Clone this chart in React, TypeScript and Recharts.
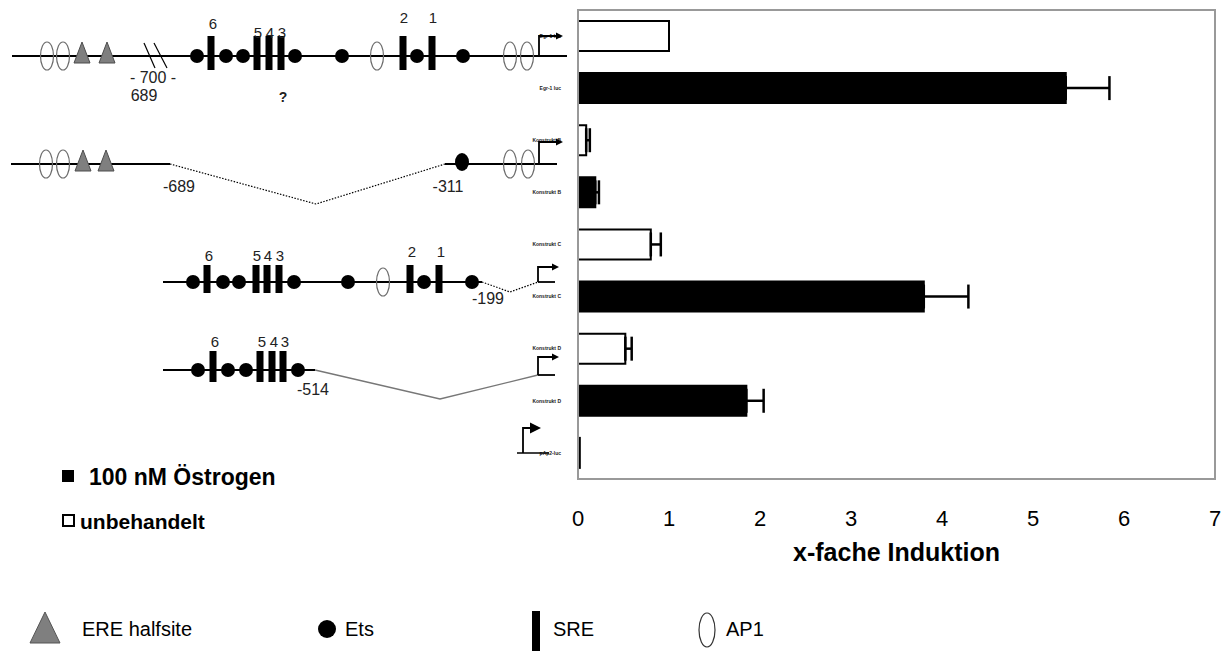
import { ComposedChart, Bar, Cell, ErrorBar, XAxis, YAxis, ReferenceArea, Label } from 'recharts';

const FONT = '"Liberation Sans", Arial, sans-serif';

// one row per bar, top to bottom
const rowLabels = ['Egr-1 luc', 'Egr-1 luc', 'Konstrukt B', 'Konstrukt B', 'Konstrukt C', 'Konstrukt C', 'Konstrukt D', 'Konstrukt D', 'pAp2-luc'];
const treatments = ['unbehandelt', 'Östrogen', 'unbehandelt', 'Östrogen', 'unbehandelt', 'Östrogen', 'unbehandelt', 'Östrogen', 'Östrogen'];
const induction = [1.0, 5.36, 0.09, 0.19, 0.8, 3.8, 0.52, 1.85, 0.02];
const errorPlus = [null, 0.48, 0.04, 0.04, 0.11, 0.49, 0.07, 0.19, null];
const xTicks = [0, 1, 2, 3, 4, 5, 6, 7];

const data = rowLabels.map((label, i) => ({
  id: `r${i}`,
  label,
  treatment: treatments[i],
  value: induction[i],
  err: errorPlus[i] == null ? null : [0, errorPlus[i]],
}));

// ---- promoter sketch helpers (decoration left of the chart) ----
const Ell = ({ x, y }: { x: number; y: number }) => (
  <ellipse cx={x} cy={y} rx={6.5} ry={14} fill="none" stroke="#6b6b6b" strokeWidth={1.2} />
);
const Tri = ({ x, y }: { x: number; y: number }) => (
  <polygon points={`${x},${y - 14} ${x - 8},${y + 7} ${x + 8},${y + 7}`} fill="#7f7f7f" stroke="#4d4d4d" strokeWidth={1} />
);
const Dot = ({ x, y, ry = 7 }: { x: number; y: number; ry?: number }) => <ellipse cx={x} cy={y} rx={7} ry={ry} fill="#000" />;
const Sre = ({ x, top, bottom }: { x: number; top: number; bottom: number }) => (
  <rect x={x - 3.5} y={top} width={7} height={bottom - top} fill="#000" />
);
const Num = ({ x, y, t, size = 15, bold = false }: { x: number; y: number; t: string; size?: number; bold?: boolean }) => (
  <text x={x} y={y} textAnchor="middle" dominantBaseline="central" fontSize={size} fontWeight={bold ? 'bold' : 'normal'} fill="#222" fontFamily={FONT}>
    {t}
  </text>
);
const Promoter = ({ x, y, top, tip, big = false }: { x: number; y: number; top: number; tip: number; big?: boolean }) => {
  const hl = big ? 11 : 7;
  const hw = big ? 5.5 : 3.5;
  return (
    <g>
      <polyline points={`${x},${y} ${x},${top} ${tip - hl + 1},${top}`} fill="none" stroke="#000" strokeWidth={1.8} />
      <polygon points={`${tip},${top} ${tip - hl},${top - hw} ${tip - hl},${top + hw}`} fill="#000" />
    </g>
  );
};

function Sketch() {
  return (
    <svg width={1229} height={653} style={{ position: 'absolute', left: 0, top: 0, pointerEvents: 'none' }}>
      {/* Egr-1 luc */}
      <line x1={12} y1={56} x2={567} y2={56} stroke="#000" strokeWidth={1.8} />
      <Ell x={47} y={56} /><Ell x={63} y={56} />
      <Tri x={82} y={56} /><Tri x={107} y={56} />
      <line x1={144} y1={43} x2={155} y2={68} stroke="#000" strokeWidth={1.2} />
      <line x1={154} y1={43} x2={167} y2={68} stroke="#000" strokeWidth={1.2} />
      <Num x={153} y={77} t="- 700 -" size={16} />
      <Num x={144} y={95} t="689" size={16} />
      {[197, 226, 243, 295, 342, 417, 463].map((x) => <Dot key={x} x={x} y={56} />)}
      {[211, 257, 269, 281, 403, 432].map((x) => <Sre key={x} x={x} top={36} bottom={70} />)}
      <Ell x={377} y={56} /><Ell x={510} y={56} /><Ell x={527} y={56} />
      <Num x={213} y={23} t="6" />
      <Num x={258} y={32} t="5" /><Num x={270} y={32} t="4" /><Num x={282} y={32} t="3" />
      <Num x={404} y={17} t="2" /><Num x={433} y={17} t="1" />
      <Num x={283} y={97} t="?" size={14} bold />
      <Promoter x={539} y={56} top={36} tip={563} />

      {/* Konstrukt B */}
      <line x1={11} y1={164} x2={170} y2={164} stroke="#000" strokeWidth={1.8} />
      <polyline points="170,164 316,204 445,164" fill="none" stroke="#000" strokeWidth={1.2} strokeDasharray="1.5 1.5" />
      <line x1={445} y1={164} x2={557} y2={164} stroke="#000" strokeWidth={1.8} />
      <Ell x={46} y={164} /><Ell x={63} y={164} />
      <Tri x={83} y={164} /><Tri x={106} y={164} />
      <Dot x={462} y={162} ry={9} />
      <Ell x={510} y={164} /><Ell x={528} y={164} />
      <Num x={179} y={186} t="-689" size={16} />
      <Num x={448} y={186} t="-311" size={16} />
      <Promoter x={539} y={164} top={142} tip={563} />

      {/* Konstrukt C */}
      <line x1={163} y1={282} x2={482} y2={282} stroke="#000" strokeWidth={1.8} />
      <polyline points="482,282 510,292 538,282" fill="none" stroke="#000" strokeWidth={1.2} strokeDasharray="1.5 1.5" />
      <line x1={538} y1={282} x2={555} y2={282} stroke="#000" strokeWidth={1.8} />
      {[193, 223, 239, 294, 348, 424, 472].map((x) => <Dot key={x} x={x} y={282} />)}
      {[207, 256, 267, 279, 410, 439].map((x) => <Sre key={x} x={x} top={265} bottom={293} />)}
      <Ell x={383} y={282} />
      <Num x={209} y={255} t="6" />
      <Num x={257} y={255} t="5" /><Num x={268} y={255} t="4" /><Num x={280} y={255} t="3" />
      <Num x={412} y={251} t="2" /><Num x={441} y={251} t="1" />
      <Num x={488} y={298} t="-199" size={16} />
      <Promoter x={538} y={282} top={267} tip={559} />

      {/* Konstrukt D */}
      <line x1={163} y1={370} x2={315} y2={370} stroke="#000" strokeWidth={1.8} />
      <polyline points="315,370 440,399 538,375" fill="none" stroke="#777" strokeWidth={1.4} />
      <line x1={538} y1={375} x2={555} y2={375} stroke="#000" strokeWidth={1.8} />
      {[198, 228, 246, 298].map((x) => <Dot key={x} x={x} y={370} />)}
      {[213, 260, 272, 283].map((x) => <Sre key={x} x={x} top={351} bottom={382} />)}
      <Num x={215} y={341} t="6" />
      <Num x={262} y={341} t="5" /><Num x={274} y={341} t="4" /><Num x={285} y={341} t="3" />
      <Num x={313} y={389} t="-514" size={16} />
      <Promoter x={538} y={375} top={357} tip={559} />

      {/* pAp2-luc */}
      <line x1={517} y1={453} x2={549} y2={453} stroke="#000" strokeWidth={1.5} />
      <Promoter x={523} y={453} top={428} tip={541} big />

      {/* treatment legend */}
      <rect x={62} y={470} width={12} height={12} fill="#000" />
      <text x={89} y={477} dominantBaseline="central" fontSize={23} fontWeight="bold" fontFamily={FONT} fill="#000">100 nM Östrogen</text>
      <rect x={63} y={515} width={11} height={11} fill="#fff" stroke="#000" strokeWidth={2} />
      <text x={80} y={521} dominantBaseline="central" fontSize={21} fontWeight="bold" fontFamily={FONT} fill="#000">unbehandelt</text>

      {/* symbol legend */}
      <polygon points="45,612 30,643 60,643" fill="#7f7f7f" stroke="#555" strokeWidth={1} />
      <text x={82} y={629} dominantBaseline="central" fontSize={20} fontFamily={FONT} fill="#000">ERE halfsite</text>
      <circle cx={327} cy={629} r={9} fill="#000" />
      <text x={345} y={629} dominantBaseline="central" fontSize={20} fontFamily={FONT} fill="#000">Ets</text>
      <rect x={532} y={611} width={8} height={40} fill="#000" />
      <text x={553} y={629} dominantBaseline="central" fontSize={20} fontFamily={FONT} fill="#000">SRE</text>
      <ellipse cx={707} cy={630} rx={8} ry={17} fill="none" stroke="#333" strokeWidth={1.2} />
      <text x={726} y={629} dominantBaseline="central" fontSize={20} fontFamily={FONT} fill="#000">AP1</text>
    </svg>
  );
}

export default function App() {
  return (
    <div style={{ position: 'relative', width: 1229, height: 653, background: '#fff', fontFamily: FONT }}>
      <style>{'body{margin:0}'}</style>
      <ComposedChart
        width={1229}
        height={653}
        data={data}
        layout="vertical"
        margin={{ top: 10, right: 14, bottom: 94, left: 0 }}
        barSize={30}
      >
        <XAxis
          type="number"
          domain={[0, 7]}
          ticks={xTicks}
          interval={0}
          height={80}
          axisLine={{ stroke: '#999', strokeWidth: 2 }}
          tickLine={false}
          tickSize={0}
          tickMargin={31}
          tick={{ fontSize: 22, fill: '#000', fontFamily: FONT }}
        >
          <Label value="x-fache Induktion" position="insideBottom" offset={-2} fontSize={25} fontWeight="bold" fill="#000" fontFamily={FONT} />
        </XAxis>
        <YAxis
          type="category"
          dataKey="id"
          width={578}
          interval={0}
          axisLine={{ stroke: '#999', strokeWidth: 2 }}
          tickLine={false}
          tickSize={0}
          tickMargin={17}
          tickFormatter={(v: string) => rowLabels[Number(String(v).slice(1))]}
          tick={{ fontSize: 5, fontWeight: 'bold', fill: '#222', fontFamily: FONT }}
        />
        <ReferenceArea x1={0} x2={7} fill="none" stroke="#999" strokeWidth={2} />
        <Bar dataKey="value" isAnimationActive={false} stroke="#000" strokeWidth={2}>
          {data.map((d) => (
            <Cell key={d.id} fill={d.treatment === 'Östrogen' ? '#000' : '#fff'} />
          ))}
          <ErrorBar dataKey="err" direction="x" width={12} stroke="#000" strokeWidth={2.5} isAnimationActive={false} />
        </Bar>
      </ComposedChart>
      <Sketch />
    </div>
  );
}
